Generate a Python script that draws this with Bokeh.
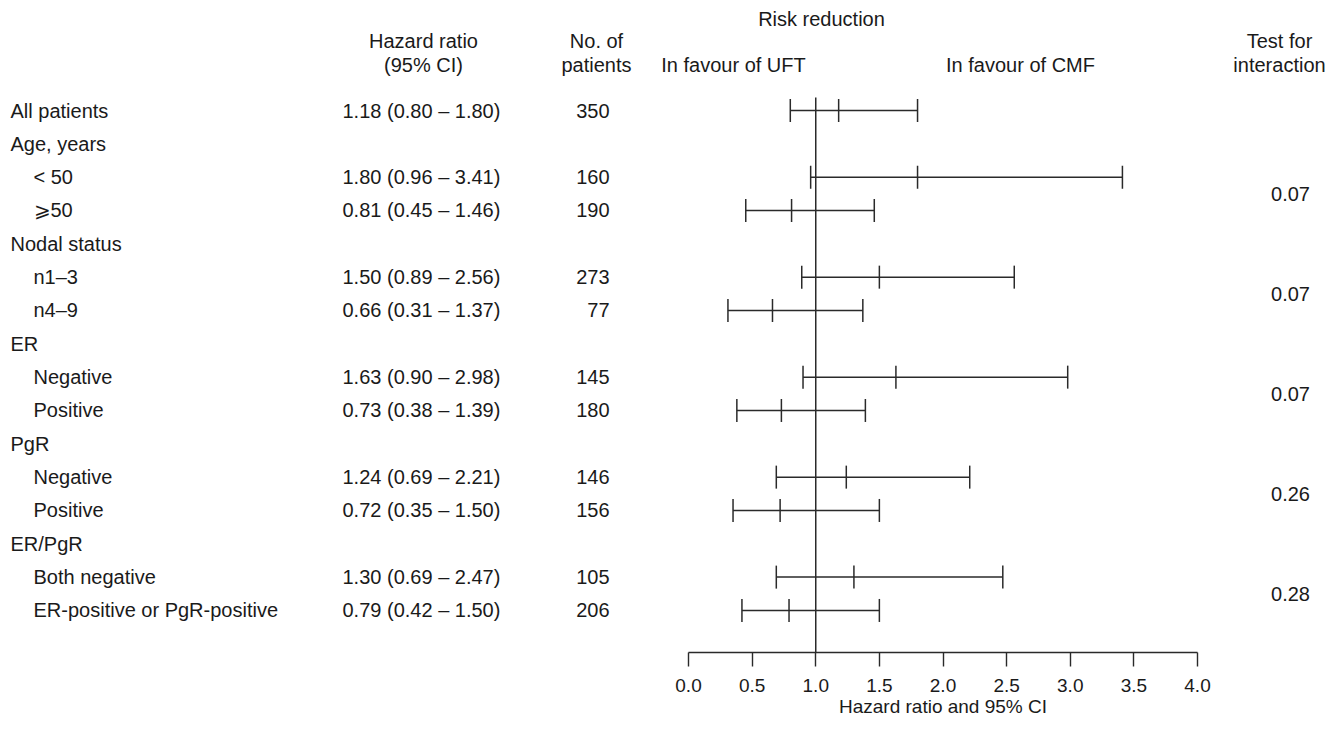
import math
from bokeh.plotting import figure
from bokeh.models import Range1d, LinearAxis, FixedTicker, ColumnDataSource, Label
from bokeh.core.properties import value
from bokeh.embed import file_html
from bokeh.resources import INLINE

# ---------------- data ----------------
row_labels = ["All patients", "Age, years", "< 50", "\u2a7e50", "Nodal status", "n1\u20133", "n4\u20139",
              "ER", "Negative", "Positive", "PgR", "Negative", "Positive", "ER/PgR",
              "Both negative", "ER-positive or PgR-positive"]
row_indent = [0, 0, 1, 1, 0, 1, 1, 0, 1, 1, 0, 1, 1, 0, 1, 1]

est_rows = [0, 2, 3, 5, 6, 8, 9, 11, 12, 14, 15]
hr = [1.18, 1.80, 0.81, 1.50, 0.66, 1.63, 0.73, 1.24, 0.72, 1.30, 0.79]
lo = [0.80, 0.96, 0.45, 0.89, 0.31, 0.90, 0.38, 0.69, 0.35, 0.69, 0.42]
hi = [1.80, 3.41, 1.46, 2.56, 1.37, 2.98, 1.39, 2.21, 1.50, 2.47, 1.50]
n_pat = [350, 160, 190, 273, 77, 145, 180, 146, 156, 105, 206]

p_rows = [2.5, 5.5, 8.5, 11.5, 14.5]
p_vals = ["0.07", "0.07", "0.07", "0.26", "0.28"]

x_ticks = [0.0, 0.5, 1.0, 1.5, 2.0, 2.5, 3.0, 3.5, 4.0]
x_title = "Hazard ratio and 95% CI"

# ---------------- layout ----------------
W, H = 1327, 716
FONT = value("Liberation Sans")
FS = "20px"
TXT = "#1a1a1a"
LINE = "#2a2a2a"

# picture x -> data x (HR 0 at px 688, HR 4 at px 1197)
px0, px_per = 688.0, 127.25
def X(px):
    return (px - px0) / px_per
# picture y -> row units (row 0 at px 110, spacing 33.33)
py0, py_per = 110.0, 33.33
def Y(py):
    return (py - py0) / py_per

AXIS_Y = 652
p = figure(width=W, height=H, output_backend="svg", toolbar_location=None,
           x_range=Range1d(X(0), X(W)), y_range=Range1d(Y(H), Y(0)),
           min_border=0, x_axis_type=None, y_axis_type=None)
p.outline_line_color = None
p.grid.visible = False
p.background_fill_color = "white"
p.border_fill_color = "white"

ax = LinearAxis(bounds=(0, 4), ticker=FixedTicker(ticks=x_ticks), fixed_location=Y(AXIS_Y))
ax.axis_line_color = LINE
ax.axis_line_width = 1.4
ax.major_tick_line_color = LINE
ax.major_tick_line_width = 1.4
ax.major_tick_out = 14
ax.major_tick_in = 0
ax.minor_tick_line_color = None
ax.major_label_standoff = 12
ax.major_label_text_font = "Liberation Sans"
ax.major_label_text_font_size = "19px"
ax.major_label_text_color = TXT
ax.major_label_overrides = {t: f"{t:.1f}" for t in x_ticks}
p.add_layout(ax, "below")

# axis title, centred under the 0-4 scale
p.add_layout(Label(x=2.0, y=Y(706), text=x_title, text_align="center", text_baseline="middle",
                   text_font="Liberation Sans", text_font_size="19px", text_color=TXT))

# reference line at HR = 1
p.segment(x0=[1.0], y0=[Y(97)], x1=[1.0], y1=[Y(AXIS_Y)], line_color=LINE, line_width=1.5)

# CI lines and caps
src = ColumnDataSource(dict(y=est_rows, hr=hr, lo=lo, hi=hi))
p.segment(x0="lo", y0="y", x1="hi", y1="y", source=src, line_color=LINE, line_width=1.5)
for col in ["lo", "hi", "hr"]:
    p.dash(x=col, y="y", source=src, size=23, angle=math.pi / 2, line_color=LINE, line_width=1.5)

# row labels
lab_x = [X(10) if ind == 0 else X(33) for ind in row_indent]
p.text(x=lab_x, y=list(range(len(row_labels))), text=row_labels, text_font=FONT,
       text_font_size=FS, text_color=TXT, text_baseline="middle", text_align="left")

# HR text column
hr_txt = [f"{h:.2f} ({l:.2f} \u2013 {u:.2f})" for h, l, u in zip(hr, lo, hi)]
p.text(x=[X(342)] * len(hr_txt), y=est_rows, text=hr_txt, text_font=FONT,
       text_font_size=FS, text_color=TXT, text_baseline="middle", text_align="left")

# N column
p.text(x=[X(609)] * len(n_pat), y=est_rows, text=[str(v) for v in n_pat], text_font=FONT,
       text_font_size=FS, text_color=TXT, text_baseline="middle", text_align="right")

# p values
p.text(x=[X(1290)] * len(p_vals), y=p_rows, text=p_vals, text_font=FONT,
       text_font_size=FS, text_color=TXT, text_baseline="middle", text_align="center")

# headers
hdr_x = [X(423), X(423), X(596), X(596), X(821), X(733), X(1020), X(1279), X(1279)]
hdr_y = [Y(40), Y(64), Y(40), Y(64), Y(18), Y(64), Y(64), Y(40), Y(64)]
hdr_t = ["Hazard ratio", "(95% CI)", "No. of", "patients", "Risk reduction",
         "In favour of UFT", "In favour of CMF", "Test for", "interaction"]
p.text(x=hdr_x, y=hdr_y, text=hdr_t, text_font=FONT, text_font_size=FS, text_color=TXT,
       text_baseline="middle", text_align="center")

open("out.html", "w").write(file_html(p, INLINE))
